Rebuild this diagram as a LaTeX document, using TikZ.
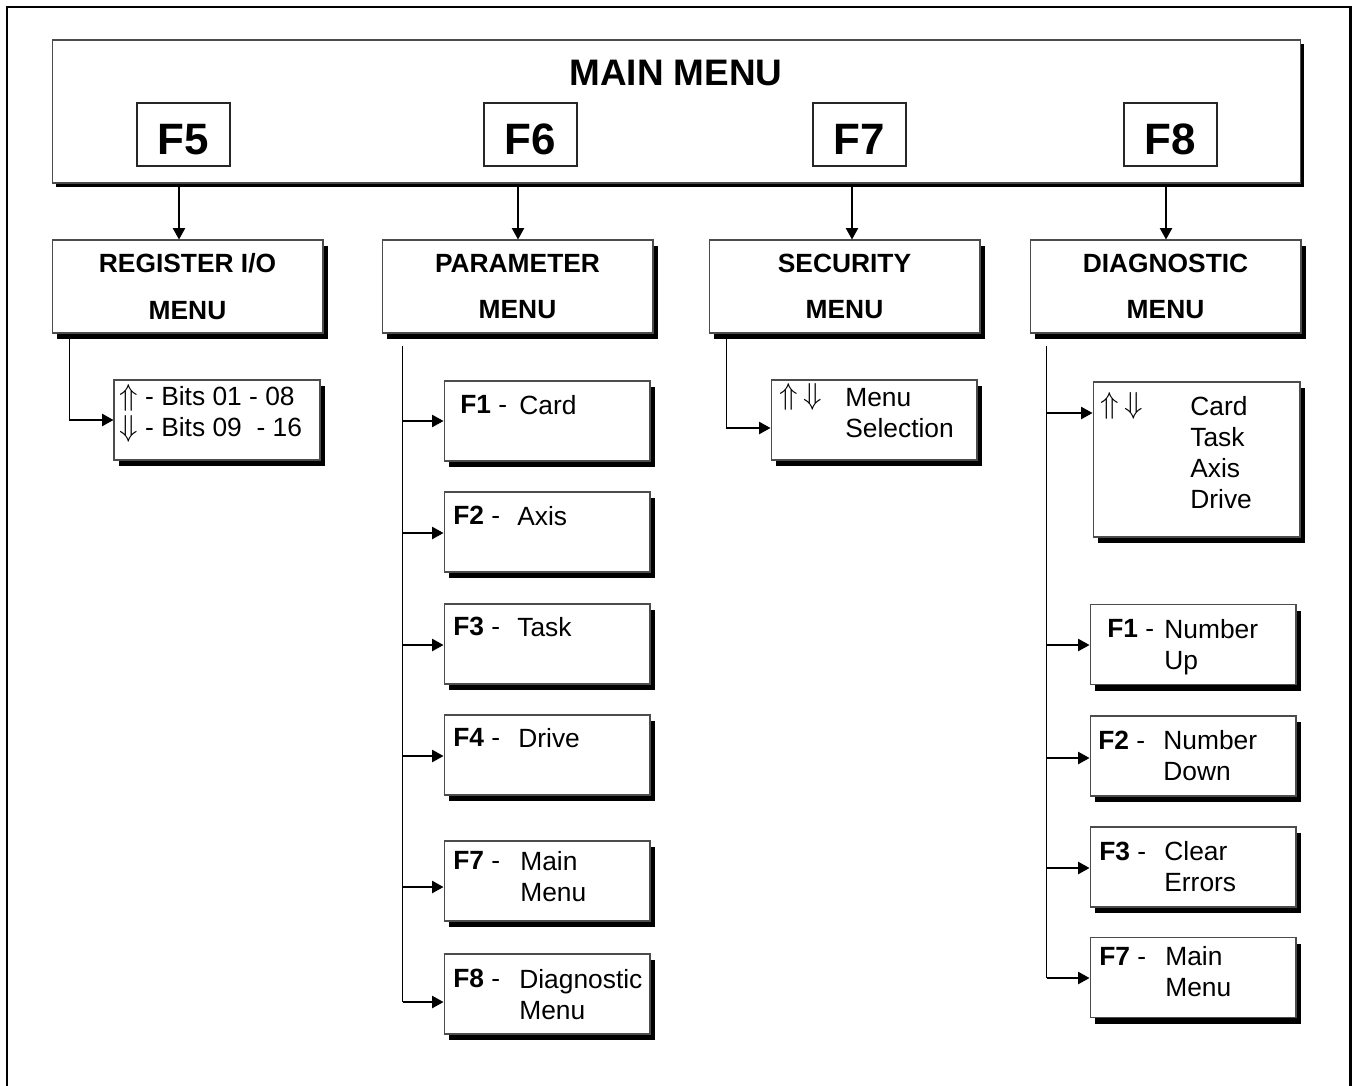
\documentclass[tikz,border=0pt]{standalone}
\usepackage{fontspec}
\setmainfont{Liberation Sans}
\usetikzlibrary{arrows.meta,shadows,calc,positioning}

\newcommand{\uparr}{{\fontsize{19}{19}\selectfont$\Uparrow$}}
\newcommand{\dnarr}{{\fontsize{19}{19}\selectfont$\Downarrow$}}

\tikzset{
  boxshadow/.style={drop shadow={shadow xshift=0.1cm, shadow yshift=-0.12cm, fill=black, opacity=1}},
  mainbox/.style={draw=black!70, line width=0.6pt, fill=white, inner sep=0pt,
    minimum width=24.98cm, minimum height=2.86cm,
    drop shadow={shadow xshift=0.07cm, shadow yshift=-0.08cm, fill=black, opacity=1}},
  fkey/.style={draw=black!85, line width=0.8pt, inner sep=0pt,
    minimum width=1.86cm, minimum height=1.26cm, text height=0.82cm, text depth=0pt,
    font=\fontsize{25}{30}\selectfont\bfseries},
  menubox/.style={draw=black!70, line width=0.6pt, fill=white, inner sep=0pt, align=center,
    minimum width=5.42cm, minimum height=1.86cm, boxshadow,
    font=\fontsize{15}{26.6}\selectfont\bfseries},
  subbox/.style={draw=black!70, line width=0.6pt, fill=white, inner sep=0pt,
    minimum width=4.12cm, minimum height=1.6cm, boxshadow},
  txt/.style={inner sep=0pt, anchor=north west, align=left,
    font=\fontsize{15}{17.6}\selectfont},
  arr/.style={line width=0.8pt, -{Triangle[length=6.5pt, width=7pt]}},
  wire/.style={line width=0.8pt}
}

\begin{document}
\begin{tikzpicture}[x=0.02cm, y=-0.02cm]
    \useasboundingbox (0,0) rectangle (1354,1085);

    % Frame (open at the bottom)
    \draw[line width=1.7pt] (7,1095) -- (7,7) -- (1350,7) -- (1350,1095);

    % Main menu with its function keys
    \node[mainbox] (main) at (676.5,111.5) {};
    \node[font=\fontsize{21}{25}\selectfont\bfseries] (title) at (676,73) {MAIN MENU};
    \foreach \k/\x in {5/183.5, 6/530.5, 7/859.5, 8/1170.5}
        \node[fkey] (f\k) at (\x,134.5) {F\k};

    % Sub menus
    \node[menubox] (reg) at (187.5,286.5) {REGISTER I/O\\MENU};
    \node[menubox] (par) at (517.5,286.5) {PARAMETER\\MENU};
    \node[menubox] (sec) at (844.5,286.5) {SECURITY\\MENU};
    \node[menubox] (dia) at (1165.5,286.5) {DIAGNOSTIC\\MENU};

    % F5 ... F8 down to the sub menus
    \foreach \m/\x [count=\i from 5] in {reg/179, par/518, sec/852, dia/1166} {
        \coordinate (t\i) at (\x,0);
        \draw[arr] (t\i |- main.south) -- (t\i |- \m.north);
    }

    % Register I/O
    \node[subbox] (rbits) at (217,420) {};
    \node[txt] (rbitstxt) at (119,384) {\uparr{} - Bits 01 - 08\\\dnarr{} - Bits 09\ \ - 16};
    \coordinate (rtap) at ($(reg.south west)+(18,0)$);
    \draw[arr] (rtap) |- (rbits.west);

    % Security
    \node[subbox] (ssel) at (874,420) {};
    \node[txt] (ssela) at (779,383) {\uparr\hspace{3pt}\dnarr};
    \node[txt] (sseltxt) at (845,388) {Menu\\Selection};
    \coordinate (stap) at ($(sec.south west)+(18,0)$);
    \draw[arr] (stap) |- ([yshift=-0.16cm]ssel.west);

    % Parameter
    \coordinate (ptop) at ($(par.south west)+(21,12)$);
    \foreach \n/\cy/\ay/\kx/\ty/\dx/\k/\d in {
        1/421/421/460/395/519/F1/Card,
        2/532/533/453/506/517/F2/Axis,
        3/644/645/453/617/517/F3/Task,
        4/755/756/453/728/518/F4/Drive,
        5/881/887/453/851/520/F7/{Main\\Menu},
        6/994/1002/453/969/519/F8/{Diagnostic\\Menu}} {
        \node[subbox] (p\n) at (547,\cy) {};
        \node[txt] (pk\n) at (\kx,\ty) {\textbf{\k} -};
        \node[txt] (pd\n) at (\dx,\ty) {\d};
        \coordinate (pa\n) at (0,\ay);
        \draw[arr] (ptop |- pa\n) -- (p\n.west |- pa\n);
    }
    \draw[wire] (ptop) -- (ptop |- pa6);

    % Diagnostic
    \node[subbox, minimum width=4.14cm, minimum height=3.1cm] (dsel) at (1196.5,459.5) {};
    \node[txt] (dsela) at (1100,392) {\uparr\hspace{3pt}\dnarr};
    \node[txt] (dseltxt) at (1190,396.5) {Card\\Task\\Axis\\Drive};
    \coordinate (dtop) at ($(dia.south west)+(17,12)$);
    \coordinate (da0) at (0,413);
    \draw[arr] (dtop |- da0) -- (dsel.west |- da0);
    \foreach \n/\cy/\ay/\kx/\ty/\dx/\k/\d in {
        1/644.5/645/1107/619/1164/F1/{Number\\Up},
        2/756/758/1098/730.5/1163/F2/{Number\\Down},
        3/867/868/1099/841.5/1164/F3/{Clear\\Errors},
        4/977.5/978/1099/946.5/1165/F7/{Main\\Menu}} {
        \node[subbox] (d\n) at (1193,\cy) {};
        \node[txt] (dk\n) at (\kx,\ty) {\textbf{\k} -};
        \node[txt] (dd\n) at (\dx,\ty) {\d};
        \coordinate (da\n) at (0,\ay);
        \draw[arr] (dtop |- da\n) -- (d\n.west |- da\n);
    }
    \draw[wire] (dtop) -- (dtop |- da4);
\end{tikzpicture}
\end{document}
